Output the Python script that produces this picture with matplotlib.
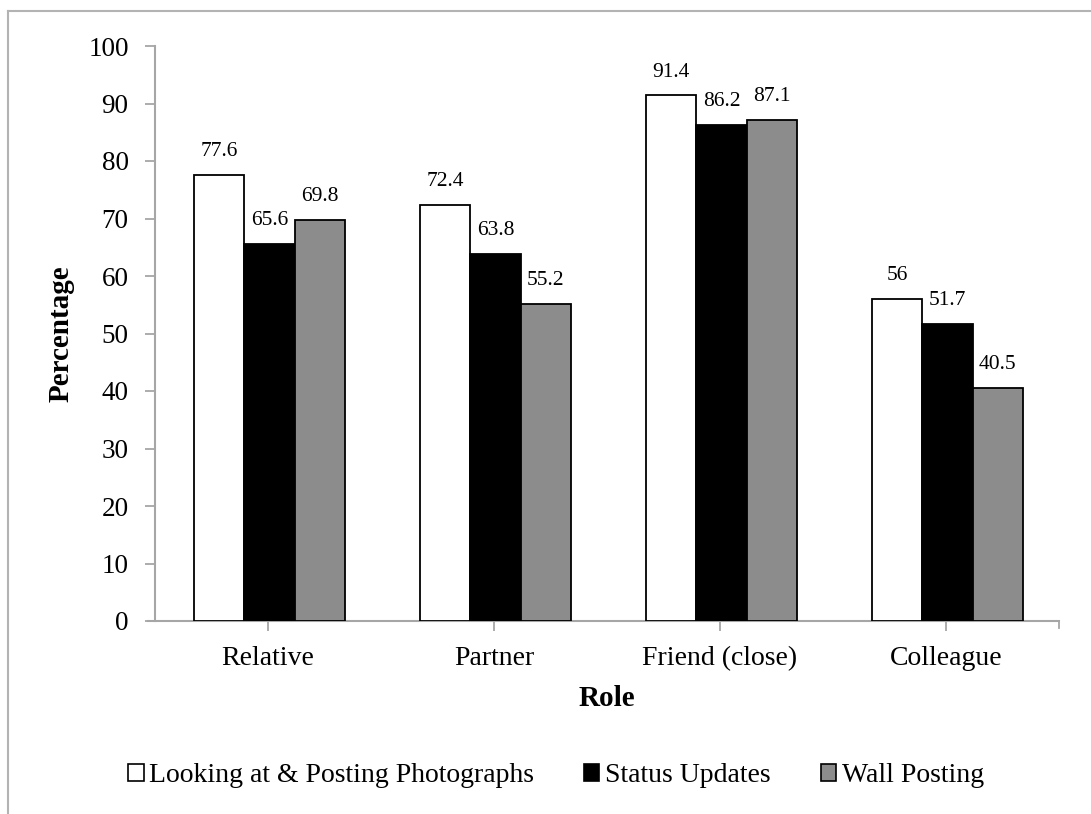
import matplotlib
matplotlib.use("Agg")
import matplotlib.pyplot as plt
from matplotlib.patches import Patch
from matplotlib.lines import Line2D
import numpy as np

roles = ["Relative", "Partner", "Friend (close)", "Colleague"]
series_names = ["Looking at & Posting Photographs", "Status Updates", "Wall Posting"]
photos = [77.6, 72.4, 91.4, 56]
status = [65.6, 63.8, 86.2, 51.7]
wall = [69.8, 55.2, 87.1, 40.5]
yticks = [0, 10, 20, 30, 40, 50, 60, 70, 80, 90, 100]

fills = ["white", "black", "#8c8c8c"]
axis_grey = "#a6a6a6"
serif = ["Liberation Serif", "DejaVu Serif"]

plt.rcParams["font.family"] = serif

fig = plt.figure(figsize=(10.91, 8.14), dpi=100)
ax = fig.add_axes([155 / 1091, 193 / 814, 904 / 1091, 575 / 814])

x = np.arange(len(roles))
width = 0.222
for i, (vals, color) in enumerate(zip([photos, status, wall], fills)):
    pos = x + (i - 1) * width + 0.007
    bars = ax.bar(pos, vals, width, color=color, edgecolor="black",
                  linewidth=1.3, label=series_names[i], zorder=3)
    for b, v in zip(bars, vals):
        ax.annotate(f"{v:g}", (b.get_x() + b.get_width() / 2, v),
                    xytext=(0, 10), textcoords="offset points",
                    ha="center", va="bottom", fontsize=15.5)

ax.set_xlim(-0.5, len(roles) - 0.5)
ax.set_ylim(0, 100)
ax.set_yticks(yticks)
ax.set_yticklabels([str(t) for t in yticks], fontsize=19.5)
ax.set_xticks(x)
ax.set_xticklabels(roles, fontsize=20)
ax.tick_params(axis="y", direction="out", length=7, width=1.3,
               color=axis_grey, pad=12)
ax.tick_params(axis="x", direction="out", length=7, width=1.3,
               color=axis_grey, pad=11)
# extra tick at right end of the category axis
ax.plot([len(roles) - 0.5] * 2, [0, -1.2], color=axis_grey, lw=1.3,
        clip_on=False, zorder=1)

for side in ["top", "right"]:
    ax.spines[side].set_visible(False)
for side in ["left", "bottom"]:
    ax.spines[side].set_color(axis_grey)
    ax.spines[side].set_linewidth(1.5)
ax.spines["bottom"].set_bounds(-0.5 - 7 / 226, len(roles) - 0.5)

ax.set_ylabel("Percentage", fontsize=21, fontweight="bold", labelpad=10)
ax.set_xlabel("Role", fontsize=21, fontweight="bold", labelpad=10)

handles = [Patch(facecolor=c, edgecolor="black", linewidth=1.2) for c in fills]
fig.legend(handles, series_names, loc="center", bbox_to_anchor=(556 / 1091, 1 - 776 / 814),
           ncol=3, frameon=False, prop={"family": serif, "size": 20},
           handlelength=0.55, handleheight=0.55,
           handletextpad=0.2, columnspacing=1.8)

# outer chart frame
fig.add_artist(Line2D([8 / 1091, 1.0], [1 - 11 / 814] * 2, color="#b3b3b3", lw=1.5))
fig.add_artist(Line2D([8 / 1091] * 2, [0, 1 - 11 / 814], color="#b3b3b3", lw=1.5))

fig.savefig("out.png", dpi=100)
